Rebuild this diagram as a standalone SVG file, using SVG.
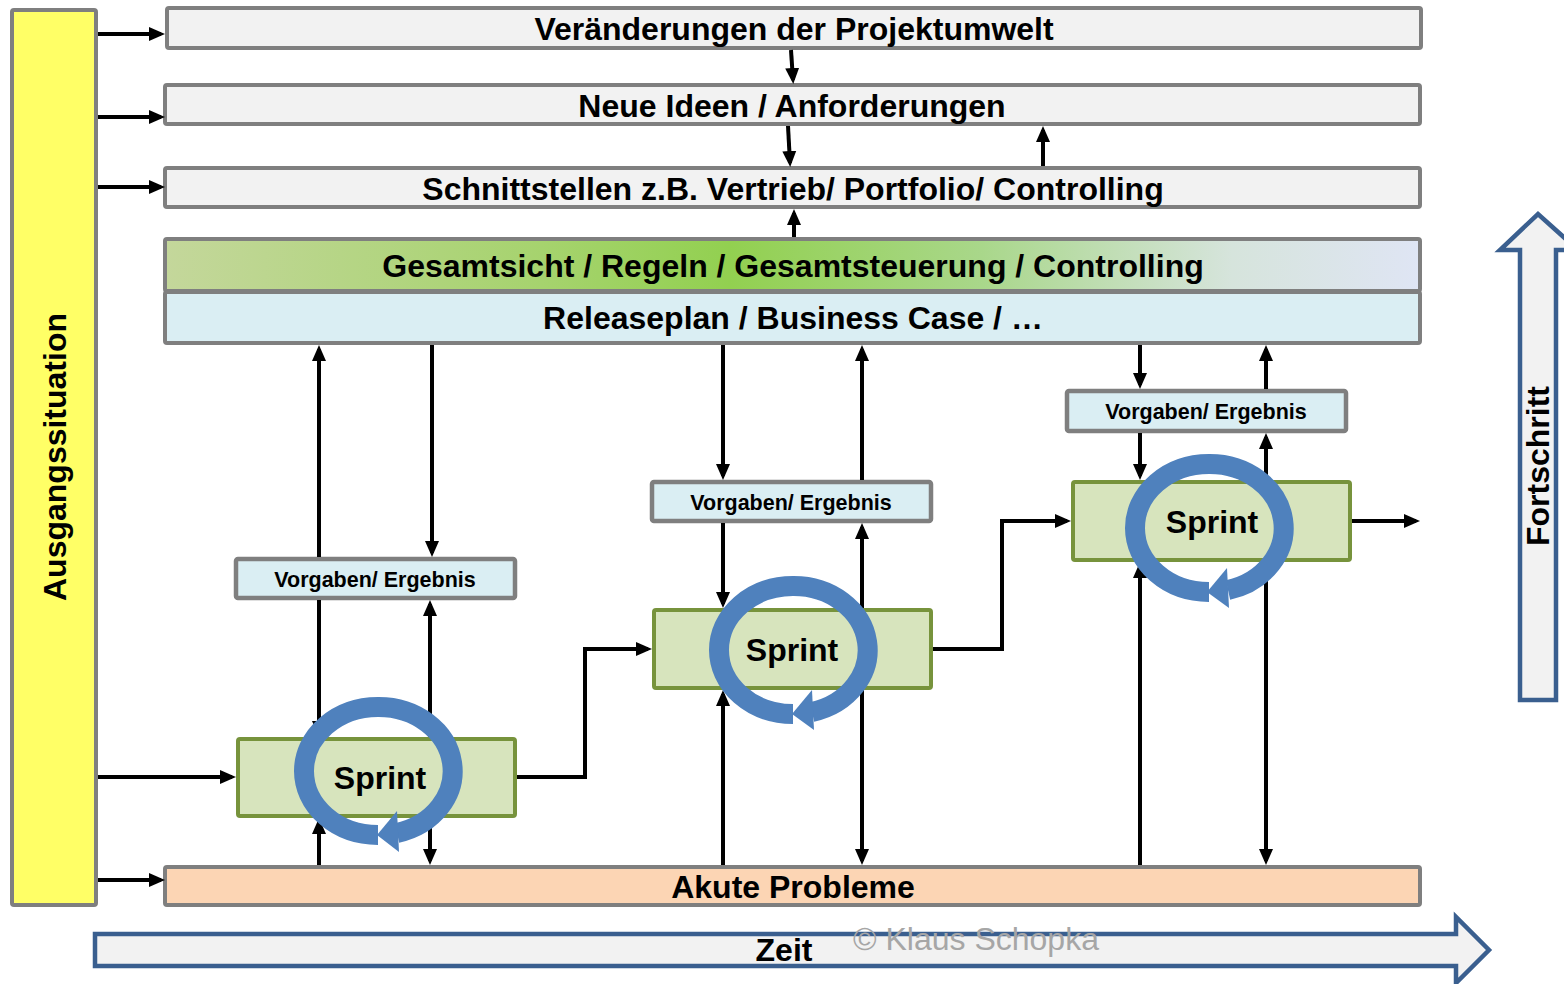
<svg xmlns="http://www.w3.org/2000/svg" width="1564" height="984" viewBox="0 0 1564 984">
<style>
.box{stroke:#7f7f7f;stroke-width:4}
.gray{fill:#f2f2f2}
.lbl{font-family:"Liberation Sans",Arial,sans-serif;font-weight:bold;fill:#000;text-anchor:middle}
.big{font-size:32px}
.sm{font-size:21.5px}
.sp{font-size:32px}
.sprint{fill:#d7e4bd;stroke:#77933c;stroke-width:4}
.vg{fill:#daeef3;stroke:#7f7f7f;stroke-width:4.5}
.con{fill:none;stroke:#000;stroke-width:4;marker-end:url(#ah)}
.ring{fill:none;stroke:#4f81bd;stroke-width:20}
.rh{fill:#4f81bd}
.blk{fill:#f2f2f2;stroke:#3a5f8f;stroke-width:4.5;stroke-linejoin:miter}
</style>
<defs>
<marker id="ah" viewBox="0 0 16 16" refX="12" refY="8" markerWidth="16" markerHeight="16" markerUnits="userSpaceOnUse" orient="auto">
<path d="M0,1 L16,8 L0,15 z" fill="#000"/>
</marker>
<linearGradient id="gr" x1="0" y1="0" x2="1" y2="0">
<stop offset="0" stop-color="#c4d79b"/>
<stop offset="0.3" stop-color="#a6d36e"/>
<stop offset="0.45" stop-color="#92d050"/>
<stop offset="0.65" stop-color="#a9d78a"/>
<stop offset="0.85" stop-color="#d6e4dc"/>
<stop offset="1" stop-color="#dfe5f4"/>
</linearGradient>
</defs>

<g id="fortschritt">
<polygon class="blk" points="1520,700 1520,250 1500,250 1538,214 1578,250 1556,250 1556,700"/>
<text class="lbl big" transform="translate(1549,466) rotate(-90)">Fortschritt</text>
</g>
<g id="zeit">
<polygon class="blk" points="95,934 1456,934 1456,917 1489,950 1456,983 1456,966 95,966"/>
<text class="lbl big" x="784" y="961">Zeit</text>
</g>

<g id="ausgangssituation">
<rect x="12" y="10" width="84" height="895" rx="2" fill="#ffff66" class="box"/>
<text class="lbl big" transform="translate(66,457) rotate(-90)">Ausgangssituation</text>
</g>
<g id="veraenderungen">
<rect x="167" y="8" width="1254" height="40" rx="2" class="box gray"/>
<text class="lbl big" x="794" y="40">Veränderungen der Projektumwelt</text>
</g>
<g id="neue-ideen">
<rect x="165" y="85" width="1255" height="39" rx="2" class="box gray"/>
<text class="lbl big" x="792" y="117">Neue Ideen / Anforderungen</text>
</g>
<g id="schnittstellen">
<rect x="165" y="168" width="1255" height="39" rx="2" class="box gray"/>
<text class="lbl big" x="793" y="200">Schnittstellen z.B. Vertrieb/ Portfolio/ Controlling</text>
</g>
<g id="gesamtsicht">
<rect x="165" y="239" width="1255" height="52" rx="2" fill="url(#gr)" class="box"/>
<text class="lbl big" x="793" y="277">Gesamtsicht / Regeln / Gesamtsteuerung / Controlling</text>
</g>
<g id="releaseplan">
<rect x="165" y="292" width="1255" height="51" rx="2" fill="#daeef3" class="box"/>
<text class="lbl big" x="793" y="329">Releaseplan / Business Case / …</text>
</g>
<g id="akute-probleme">
<rect x="165" y="867" width="1255" height="38" rx="2" fill="#fcd5b4" class="box"/>
<text class="lbl big" x="793" y="898">Akute Probleme</text>
</g>

<g id="vorgaben1">
<rect x="236" y="559" width="279" height="39" rx="2" class="vg"/>
<text class="lbl sm" x="375" y="587">Vorgaben/ Ergebnis</text>
</g>
<g id="vorgaben2">
<rect x="652" y="482" width="279" height="39" rx="2" class="vg"/>
<text class="lbl sm" x="791" y="510">Vorgaben/ Ergebnis</text>
</g>
<g id="vorgaben3">
<rect x="1067" y="391" width="279" height="40" rx="2" class="vg"/>
<text class="lbl sm" x="1206" y="419">Vorgaben/ Ergebnis</text>
</g>

<g id="connectors">
<line class="con" x1="98" y1="34" x2="161" y2="34"/>
<line class="con" x1="98" y1="117" x2="161" y2="117"/>
<line class="con" x1="98" y1="187" x2="161" y2="187"/>
<line class="con" x1="98" y1="777" x2="232" y2="777"/>
<line class="con" x1="98" y1="880" x2="161" y2="880"/>
<line class="con" x1="791" y1="50" x2="793" y2="80"/>
<line class="con" x1="788" y1="126" x2="790" y2="163"/>
<line class="con" x1="1043" y1="166" x2="1043" y2="130"/>
<line class="con" x1="794" y1="237" x2="794" y2="213"/>
<line class="con" x1="319" y1="557" x2="319" y2="349"/>
<line class="con" x1="432" y1="345" x2="432" y2="553"/>
<line class="con" x1="319" y1="600" x2="319" y2="733"/>
<line class="con" x1="430" y1="737" x2="430" y2="604"/>
<line class="con" x1="319" y1="865" x2="319" y2="822"/>
<line class="con" x1="430" y1="818" x2="430" y2="861"/>
<line class="con" x1="723" y1="345" x2="723" y2="476"/>
<line class="con" x1="723" y1="523" x2="723" y2="604"/>
<line class="con" x1="723" y1="865" x2="723" y2="694"/>
<line class="con" x1="862" y1="480" x2="862" y2="349"/>
<line class="con" x1="862" y1="608" x2="862" y2="527"/>
<line class="con" x1="862" y1="690" x2="862" y2="861"/>
<line class="con" x1="1140" y1="345" x2="1140" y2="385"/>
<line class="con" x1="1140" y1="433" x2="1140" y2="476"/>
<line class="con" x1="1140" y1="865" x2="1140" y2="566"/>
<line class="con" x1="1266" y1="389" x2="1266" y2="349"/>
<line class="con" x1="1266" y1="480" x2="1266" y2="437"/>
<line class="con" x1="1266" y1="562" x2="1266" y2="861"/>
<polyline class="con" points="515,777 585,777 585,649 648,649"/>
<polyline class="con" points="931,649 1002,649 1002,521 1067,521"/>
<line class="con" x1="1350" y1="521" x2="1416" y2="521"/>
</g>

<g id="sprint1">
<rect x="238" y="739" width="277" height="77" rx="2" class="sprint"/>
<path class="ring" d="M378,835 A74,64 0 0 1 378,707 A74,64 0 0 1 397,833"/>
<polygon class="rh" points="397,811 399,852 377,835"/>
<text class="lbl sp" x="380" y="789">Sprint</text>
</g>
<g id="sprint2">
<rect x="654" y="610" width="277" height="78" rx="2" class="sprint"/>
<path class="ring" d="M793,714 A74,64 0 0 1 793,586 A74,64 0 0 1 812,712"/>
<polygon class="rh" points="812,690 814,730 792,714"/>
<text class="lbl sp" x="792" y="661">Sprint</text>
</g>
<g id="sprint3">
<rect x="1073" y="482" width="277" height="78" rx="2" class="sprint"/>
<path class="ring" d="M1209,592 A74,64 0 0 1 1209,464 A74,64 0 0 1 1228,590"/>
<polygon class="rh" points="1227,568 1229,608 1207,592"/>
<text class="lbl sp" x="1212" y="533">Sprint</text>
</g>

<text x="853" y="950" font-family="'Liberation Sans',Arial,sans-serif" font-size="32" fill="#a6a6a6">© Klaus Schopka</text>
</svg>
